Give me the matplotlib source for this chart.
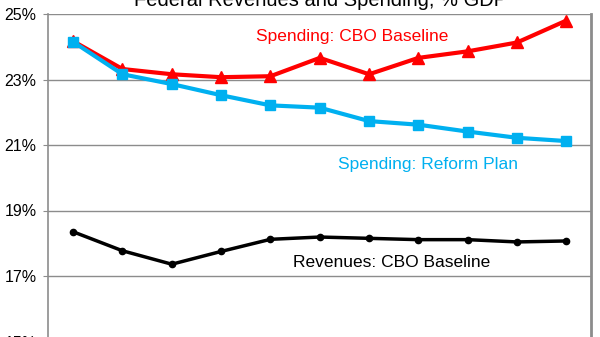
import matplotlib.pyplot as plt
import numpy as np

plt.rcParams['font.family'] = ['Liberation Sans', 'DejaVu Sans']

years = list(range(11))
spend_cbo = [24.17, 23.32, 23.16, 23.07, 23.10, 23.66, 23.16, 23.66, 23.86, 24.13, 24.80]
spend_reform = [24.15, 23.16, 22.86, 22.52, 22.21, 22.14, 21.73, 21.62, 21.41, 21.22, 21.12]
revenues = [18.35, 17.77, 17.36, 17.75, 18.12, 18.19, 18.15, 18.11, 18.11, 18.04, 18.07]
yticks = [15, 17, 19, 21, 23, 25]

fig = plt.figure(figsize=(6, 3.37), dpi=100)
ax = fig.add_axes([48.5/600, 1 - 341.5/337, 542.5/600, 327.5/337])

x = np.array(years)
ax.plot(x, revenues, color='black', lw=2.5, marker='o', ms=4.5, zorder=3)
ax.plot(x, spend_cbo, color='#ff0000', lw=3, marker='^', ms=8.5, zorder=4)
ax.plot(x, spend_reform, color='#00b0f0', lw=3, marker='s', ms=6.5, zorder=5)

ax.set_xlim(-0.5, 10.5)
ax.set_ylim(15, 25)
ax.set_yticks(yticks)
ax.set_yticklabels([f'{t}%' for t in yticks], fontsize=11.5)
ax.set_xticks([])
ax.grid(axis='y', color='#8c8c8c', lw=1)
ax.set_axisbelow(True)
ax.tick_params(axis='y', length=3.5, color='#8c8c8c', pad=5)
for side in ['left', 'right']:
    ax.spines[side].set_color('#8c8c8c')
ax.spines['left'].set_linewidth(1.2)
ax.spines['right'].set_linewidth(2)
ax.spines['top'].set_visible(False)
ax.spines['bottom'].set_visible(False)

ax.text(5.65, 24.3, 'Spending: CBO Baseline', color='#ff0000', fontsize=12.5, ha='center', va='center')
ax.text(7.2, 20.4, 'Spending: Reform Plan', color='#00b0f0', fontsize=12.5, ha='center', va='center')
ax.text(6.45, 17.4, 'Revenues: CBO Baseline', color='black', fontsize=12.5, ha='center', va='center')

fig.text(0.535, 1.0, 'Federal Revenues and Spending, % GDP', fontsize=14.5, ha='center', va='center')

fig.savefig('out.png', dpi=100)
